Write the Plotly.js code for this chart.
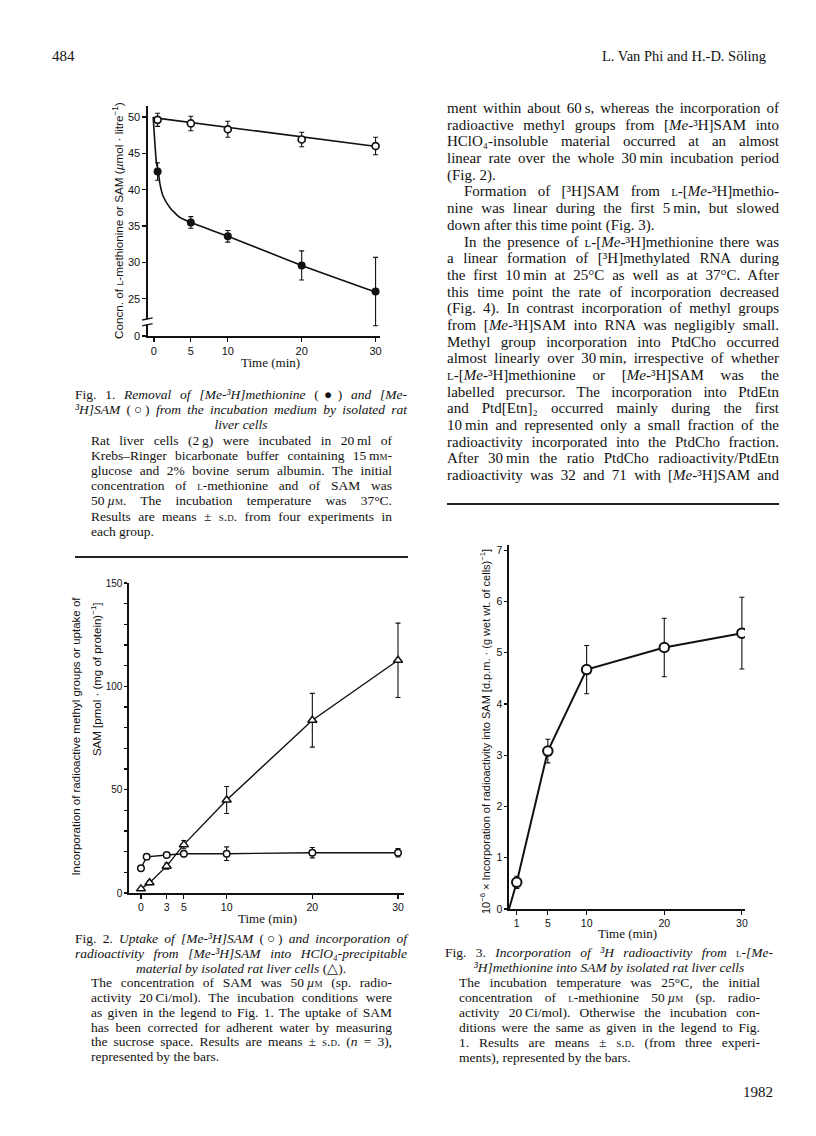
<!DOCTYPE html>
<html lang="en">
<head>
<meta charset="UTF-8">
<title>Van Phi and Söling, p. 484</title>
<script src="https://cdn.plot.ly/plotly-3.0.1.min.js" charset="utf-8"></script>
<style>
  body { margin: 0; background: #fff; color: #111; font-family: "Liberation Serif", "Times New Roman", serif; }
  #page { position: relative; width: 816px; height: 1136px; overflow: hidden; }
  .blk { position: absolute; }
  .ln { white-space: nowrap; text-align: justify; text-align-last: justify; }
  .ln.end { text-align-last: left; }
  .ln.ctr { text-align-last: center; }
  .ind { padding-left: 17px; }
  .sc { font-variant: small-caps; }
  .rule { position: absolute; height: 1.5px; background: #222; }
  .plot { position: absolute; }
</style>
</head>
<body>
<div id="page">
  <div id="fig1" class="plot" style="left:60px; top:90px; width:340px; height:290px;"></div>
  <div id="fig2" class="plot" style="left:40px; top:570px; width:380px; height:360px;"></div>
  <div id="fig3" class="plot" style="left:450px; top:530px; width:320px; height:420px;"></div>

  <div class="blk" style="left:52px; top:48px; font-size:15px;">484</div>
  <div class="blk" style="right:50px; top:48px; font-size:14.5px;">L. Van Phi and H.-D. Söling</div>

  <!-- right column running text -->
  <div class="blk" style="left:447px; top:100px; width:332px; font-size:15px; line-height:16.68px;">
    <div class="ln">ment within about 60&#8201;s, whereas the incorporation of</div>
    <div class="ln">radioactive methyl groups from [<i>Me</i>-³H]SAM into</div>
    <div class="ln">HClO₄-insoluble material occurred at an almost</div>
    <div class="ln">linear rate over the whole 30&#8201;min incubation period</div>
    <div class="ln end">(Fig. 2).</div>
    <div class="ln ind">Formation of [³H]SAM from <span class="sc">l</span>-[<i>Me</i>-³H]methio-</div>
    <div class="ln">nine was linear during the first 5&#8201;min, but slowed</div>
    <div class="ln end">down after this time point (Fig. 3).</div>
    <div class="ln ind">In the presence of <span class="sc">l</span>-[<i>Me</i>-³H]methionine there was</div>
    <div class="ln">a linear formation of [³H]methylated RNA during</div>
    <div class="ln">the first 10&#8201;min at 25°C as well as at 37°C. After</div>
    <div class="ln">this time point the rate of incorporation decreased</div>
    <div class="ln">(Fig. 4). In contrast incorporation of methyl groups</div>
    <div class="ln">from [<i>Me</i>-³H]SAM into RNA was negligibly small.</div>
    <div class="ln">Methyl group incorporation into PtdCho occurred</div>
    <div class="ln">almost linearly over 30&#8201;min, irrespective of whether</div>
    <div class="ln"><span class="sc">l</span>-[<i>Me</i>-³H]methionine or [<i>Me</i>-³H]SAM was the</div>
    <div class="ln">labelled precursor. The incorporation into PtdEtn</div>
    <div class="ln">and Ptd[Etn]₂ occurred mainly during the first</div>
    <div class="ln">10&#8201;min and represented only a small fraction of the</div>
    <div class="ln">radioactivity incorporated into the PtdCho fraction.</div>
    <div class="ln">After 30&#8201;min the ratio PtdCho radioactivity/PtdEtn</div>
    <div class="ln">radioactivity was 32 and 71 with [<i>Me</i>-³H]SAM and</div>
  </div>
  <div class="rule" style="left:447px; top:503px; width:332px;"></div>

  <!-- Fig. 1 caption -->
  <div class="blk" style="left:75px; top:387px; width:332px; font-size:13.5px; line-height:15.2px;">
    <div class="ln">Fig. 1. <i>Removal of [Me-³H]methionine</i> (●) <i>and [Me-</i></div>
    <div class="ln"><i>³H]SAM</i> (○) <i>from the incubation medium by isolated rat</i></div>
    <div class="ln ctr"><i>liver cells</i></div>
    <div style="padding:0 15px 0 16px;">
      <div class="ln">Rat liver cells (2&#8201;g) were incubated in 20&#8201;ml of</div>
      <div class="ln">Krebs–Ringer bicarbonate buffer containing 15&#8201;m<span class="sc">m</span>-</div>
      <div class="ln">glucose and 2% bovine serum albumin. The initial</div>
      <div class="ln">concentration of <span class="sc">l</span>-methionine and of SAM was</div>
      <div class="ln">50&#8201;<i>µ</i><span class="sc">m</span>. The incubation temperature was 37°C.</div>
      <div class="ln">Results are means ± <span class="sc">s.d.</span> from four experiments in</div>
      <div class="ln end">each group.</div>
    </div>
  </div>
  <div class="rule" style="left:75px; top:556px; width:333px;"></div>

  <!-- Fig. 2 caption -->
  <div class="blk" style="left:75px; top:932px; width:332px; font-size:13.5px; line-height:14.75px;">
    <div class="ln">Fig. 2. <i>Uptake of [Me-³H]SAM</i> (○) <i>and incorporation of</i></div>
    <div class="ln"><i>radioactivity from [Me-³H]SAM into HClO₄-precipitable</i></div>
    <div class="ln ctr"><i>material by isolated rat liver cells</i> (△).</div>
    <div style="padding:0 15px 0 16px;">
      <div class="ln">The concentration of SAM was 50&#8201;<i>µ</i><span class="sc">m</span> (sp. radio-</div>
      <div class="ln">activity 20&#8201;Ci/mol). The incubation conditions were</div>
      <div class="ln">as given in the legend to Fig. 1. The uptake of SAM</div>
      <div class="ln">has been corrected for adherent water by measuring</div>
      <div class="ln">the sucrose space. Results are means ± <span class="sc">s.d.</span> (<i>n</i> = 3),</div>
      <div class="ln end">represented by the bars.</div>
    </div>
  </div>

  <!-- Fig. 3 caption -->
  <div class="blk" style="left:445px; top:945px; width:328px; font-size:13.5px; line-height:15px;">
    <div class="ln">Fig. 3. <i>Incorporation of ³H radioactivity from</i> <span class="sc">l</span>-<i>[Me-</i></div>
    <div class="ln ctr"><i>³H]methionine into SAM by isolated rat liver cells</i></div>
    <div style="padding:0 13px 0 14px;">
      <div class="ln">The incubation temperature was 25°C, the initial</div>
      <div class="ln">concentration of <span class="sc">l</span>-methionine 50&#8201;<i>µ</i><span class="sc">m</span> (sp. radio-</div>
      <div class="ln">activity 20&#8201;Ci/mol). Otherwise the incubation con-</div>
      <div class="ln">ditions were the same as given in the legend to Fig.</div>
      <div class="ln">1. Results are means ± <span class="sc">s.d.</span> (from three experi-</div>
      <div class="ln end">ments), represented by the bars.</div>
    </div>
  </div>
  <div class="blk" style="right:43px; top:1084px; font-size:15px;">1982</div>
</div>

<script>
// ---- Fig. 1: concentration in medium (umol/l) ----
const f1Time = [0.5, 5, 10, 20, 30];
const f1Met = [42.5, 35.5, 33.6, 29.6, 26.0];
const f1MetSd = [1.2, 0.8, 0.8, 2.0, 4.7];
const f1Sam = [49.6, 49.1, 48.3, 46.9, 46.0];
const f1SamSd = [0.9, 1.0, 1.1, 1.0, 1.2];
// the authors' hand-drawn curves
const f1MetCurveT = [-0.1, 0.35, 0.6, 0.8, 1.25, 2.2, 3.5, 5, 10, 20, 30.4];
const f1MetCurveY = [50, 43.6, 42.5, 40.9, 39.1, 37.5, 36.2, 35.5, 33.6, 29.6, 25.8];
const f1SamCurveT = [-0.1, 30.4];
const f1SamCurveY = [49.9, 45.9];
// broken axis: "0" sits just below 25
const f1TickVals = [19.9, 25, 30, 35, 40, 45, 50];
const f1TickText = ['0', '25', '30', '35', '40', '45', '50'];
const f1TimeTicks = [0, 5, 10, 20, 30];

// ---- Fig. 2: pmol per mg protein ----
const f2SamT = [0, 0.66, 3, 5, 10, 20, 30];
const f2SamY = [12, 17.5, 18.4, 19, 19, 19.5, 19.5];
const f2SamSd = [0, 0, 0, 1.4, 3.3, 2.5, 2.0];
const f2IncT = [0, 1, 3, 5, 10, 20, 30];
const f2IncY = [2, 5, 13, 23.4, 45, 83.6, 112.6];
const f2IncSd = [0, 1, 1.5, 2, 6.5, 13, 18];
const f2TimeTicks = [0, 3, 5, 10, 20, 30];

// ---- Fig. 3: 10^-6 x d.p.m. per g wet wt ----
const f3T = [1, 5, 10, 20, 30];
const f3Y = [0.52, 3.08, 4.67, 5.1, 5.38];
const f3Sd = [0.12, 0.23, 0.47, 0.57, 0.7];
const f3TimeTicks = [1, 5, 10, 20, 30];
const f3YTicks = [0, 1, 2, 3, 4, 5, 6, 7];

const ink = '#111';
const clear = 'rgba(0,0,0,0)';
const sans = 'Liberation Sans, Arial, sans-serif';
const serif = 'Liberation Serif, Times New Roman, serif';

function axis(extra) {
    return Object.assign({
        showline: true, linecolor: ink, linewidth: 1.6,
        ticks: 'outside', ticklen: 4, tickwidth: 1.2, tickcolor: ink,
        showgrid: false, zeroline: false,
        tickfont: { family: sans, size: 11, color: ink },
        fixedrange: true
    }, extra);
}

function err(arr) {
    return { type: 'data', array: arr, visible: true, color: ink, thickness: 1.1, width: 2.5 };
}

function ann(text, opts) {
    return Object.assign({
        text: text, xref: 'paper', yref: 'paper', showarrow: false,
        font: { family: sans, size: 11, color: ink }
    }, opts);
}

const config = { staticPlot: true, displayModeBar: false };

// Fig. 1
Plotly.newPlot('fig1', [
    { x: f1MetCurveT, y: f1MetCurveY, mode: 'lines', line: { color: ink, width: 1.6, shape: 'spline', smoothing: 0.5 }, hoverinfo: 'skip' },
    { x: f1SamCurveT, y: f1SamCurveY, mode: 'lines', line: { color: ink, width: 1.6 }, hoverinfo: 'skip' },
    { x: f1Time, y: f1Met, mode: 'markers', error_y: err(f1MetSd),
      marker: { symbol: 'circle', size: 8, color: ink } },
    { x: f1Time, y: f1Sam, mode: 'markers', error_y: err(f1SamSd),
      marker: { symbol: 'circle', size: 7, color: '#fff', line: { color: ink, width: 1.7 } } }
], {
    width: 340, height: 290,
    margin: { l: 88, r: 20, t: 16, b: 44 },
    paper_bgcolor: clear, plot_bgcolor: clear, showlegend: false,
    xaxis: axis({ range: [-0.8, 30.6], tickvals: f1TimeTicks }),
    yaxis: axis({ range: [19.9, 51.5], tickvals: f1TickVals, ticktext: f1TickText }),
    shapes: [
        { type: 'rect', xref: 'paper', yref: 'y', x0: -0.02, x1: 0.02, y0: 21.5, y1: 22.2,
          line: { width: 0 }, fillcolor: '#fff', layer: 'above' },
        { type: 'line', xref: 'paper', yref: 'y', x0: -0.025, x1: 0.02, y0: 21.3, y1: 21.6,
          line: { color: ink, width: 1.3 }, layer: 'above' },
        { type: 'line', xref: 'paper', yref: 'y', x0: -0.025, x1: 0.02, y0: 22.1, y1: 22.4,
          line: { color: ink, width: 1.3 }, layer: 'above' }
    ],
    annotations: [
        ann('Time (min)', { x: 0.5, y: 0, xshift: 6, yshift: -26, yanchor: 'middle',
            font: { family: serif, size: 13, color: ink } }),
        ann('Concn. of <span style="font-size:9px">L</span>-methionine or SAM (<i>µ</i>mol · litre<sup>−1</sup>)',
            { x: 0, y: 0.5, xshift: -30, textangle: -90, xanchor: 'center', yanchor: 'middle',
              font: { family: sans, size: 11.7, color: ink } })
    ]
}, config);

// Fig. 2
Plotly.newPlot('fig2', [
    { x: f2IncT, y: f2IncY, mode: 'lines+markers', error_y: err(f2IncSd),
      line: { color: ink, width: 1.4 },
      marker: { symbol: 'triangle-up', size: 8, color: '#fff', line: { color: ink, width: 1.5 } } },
    { x: f2SamT, y: f2SamY, mode: 'lines+markers', error_y: err(f2SamSd),
      line: { color: ink, width: 1.4 },
      marker: { symbol: 'circle', size: 6.5, color: '#fff', line: { color: ink, width: 1.5 } } }
], {
    width: 380, height: 360,
    margin: { l: 89, r: 16, t: 13, b: 37 },
    paper_bgcolor: clear, plot_bgcolor: clear, showlegend: false,
    xaxis: axis({ range: [-1.4, 30.7], tickvals: f2TimeTicks, tickfont: { family: sans, size: 10.5, color: ink } }),
    yaxis: axis({ range: [0, 150], dtick: 50, ticklen: 3, tickfont: { family: sans, size: 10, color: ink },
                  minor: { dtick: 10, ticks: 'outside', ticklen: 3, tickwidth: 1.2, tickcolor: ink, showgrid: false } }),
    annotations: [
        ann('Time (min)', { x: 0.5, y: 0, xshift: 1, yshift: -25, yanchor: 'middle',
            font: { family: serif, size: 13, color: ink } }),
        ann('Incorporation of radioactive methyl groups or uptake of',
            { x: 0, y: 0.961, xshift: -53, textangle: -90, xanchor: 'center', yanchor: 'top',
              font: { family: sans, size: 11.5, color: ink } }),
        ann('SAM [pmol · (mg of protein)<sup>−1</sup>]',
            { x: 0, y: 0.945, xshift: -33, textangle: -90, xanchor: 'center', yanchor: 'top',
              font: { family: sans, size: 11.5, color: ink } })
    ]
}, config);

// Fig. 3
Plotly.newPlot('fig3', [
    { x: [0].concat(f3T), y: [0].concat(f3Y), mode: 'lines', line: { color: ink, width: 2 }, hoverinfo: 'skip' },
    { x: f3T, y: f3Y, mode: 'markers', error_y: err(f3Sd),
      marker: { symbol: 'circle', size: 9.5, color: '#fff', line: { color: ink, width: 2 } } }
], {
    width: 320, height: 420,
    margin: { l: 59, r: 25, t: 15, b: 41 },
    paper_bgcolor: clear, plot_bgcolor: clear, showlegend: false,
    xaxis: axis({ range: [0, 30.4], tickvals: f3TimeTicks, tickfont: { family: sans, size: 10.5, color: ink } }),
    yaxis: axis({ range: [0, 7.1], tickvals: f3YTicks, ticklen: 3, tickfont: { family: sans, size: 10.5, color: ink } }),
    annotations: [
        ann('Time (min)', { x: 0.5, y: 0, yshift: -24, yanchor: 'middle',
            font: { family: serif, size: 13, color: ink } }),
        ann('10<sup>−6</sup> × Incorporation of radioactivity into SAM [d.p.m. · (g wet wt. of cells)<sup>−1</sup>]',
            { x: 0, y: 0.5, xshift: -24, yshift: -5, textangle: -90, xanchor: 'center', yanchor: 'middle',
              font: { family: sans, size: 11, color: ink } })
    ]
}, config);
</script>
</body>
</html>
